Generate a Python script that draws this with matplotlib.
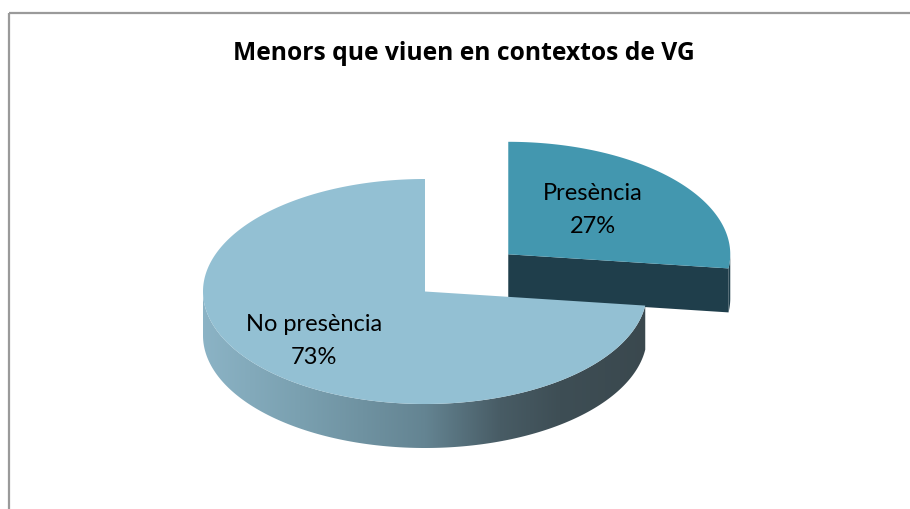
import numpy as np
import matplotlib
matplotlib.use("Agg")
import matplotlib.pyplot as plt
from matplotlib.patches import Polygon, Rectangle

# ---- data ----
title = "Menors que viuen en contextos de VG"
categories = ["Presència", "No presència"]
percentages = [27, 73]
explode = [0.5, 0.0]
top_colors = ["#4397AF", "#93C0D3"]
side_colors = ["#1F3E4B", None]  # None -> gradient

W, H = 910, 510
fig = plt.figure(figsize=(9.1, 5.1), dpi=100)
ax = fig.add_axes([0, 0, 1, 1])
ax.set_xlim(0, W)
ax.set_ylim(H, 0)
ax.axis("off")

FONT = ["Lato", "DejaVu Sans"]
TFONT = ["Open Sans", "DejaVu Sans"]

cx, cy, rx, ry, depth = 425, 292.5, 222, 112.5, 44


def arc(ox, oy, a0, a1, n=200, dz=0.0):
    a = np.radians(np.linspace(a0, a1, n))
    return np.column_stack([ox + rx * np.cos(a), oy - ry * np.sin(a) + dz])


# slice angles: start at 12 o'clock, clockwise
cum = np.concatenate([[0], np.cumsum(percentages)]) / sum(percentages) * 360.0
slices = []
for i in range(len(percentages)):
    a_hi = 90 - cum[i]
    a_lo = 90 - cum[i + 1]
    mid = np.radians((a_hi + a_lo) / 2)
    ox = cx + explode[i] * rx * np.cos(mid)
    oy = cy - explode[i] * ry * np.sin(mid)
    slices.append((a_lo, a_hi, ox, oy))

# gradient for main wall
grad_x = np.array([200, 300, 425, 500, 560, 650])
grad_c = np.array([[140, 180, 198], [122, 160, 176], [100, 132, 146],
                   [72, 92, 101], [62, 78, 85], [58, 72, 78]]) / 255.0

for i, (a_lo, a_hi, ox, oy) in enumerate(slices):
    lo = a_lo
    hi = a_hi
    segs = []
    for shift in (-360, 0, 360):
        s0, s1 = max(lo + shift, -180), min(hi + shift, 0)
        if s1 > s0:
            segs.append((s0, s1))
    for s0, s1 in segs:
        top = arc(ox, oy, s0, s1)
        bot = arc(ox, oy, s1, s0, dz=depth)
        poly = Polygon(np.vstack([top, bot]), closed=True, lw=0)
        if side_colors[i] is None:
            poly.set_facecolor("none")
            ax.add_patch(poly)
            xs = np.linspace(0, W, W)
            img = np.stack([np.interp(xs, grad_x, grad_c[:, k]) for k in range(3)], axis=-1)
            img = np.repeat(img[None, :, :], 2, axis=0)
            im = ax.imshow(img, extent=[0, W, H, 0], aspect="auto", zorder=1 + i * 3)
            im.set_clip_path(poly)
        else:
            poly.set_facecolor(side_colors[i])
            poly.set_zorder(1 + i * 3)
            ax.add_patch(poly)
    if np.cos(np.radians(a_lo)) > 1e-6:
        p = arc(ox, oy, a_lo, a_lo, n=1)[0]
        face = np.array([[ox, oy], p, p + [0, depth], [ox, oy + depth]])
        ax.add_patch(Polygon(face, closed=True, lw=0,
                             fc=side_colors[i] or "#3E4E55", zorder=1 + i * 3))
    if np.cos(np.radians(a_hi)) < -1e-6:
        p = arc(ox, oy, a_hi, a_hi, n=1)[0]
        face = np.array([[ox, oy], p, p + [0, depth], [ox, oy + depth]])
        ax.add_patch(Polygon(face, closed=True, lw=0,
                             fc=side_colors[i] or "#3E4E55", zorder=1 + i * 3))
    topface = np.vstack([[ox, oy], arc(ox, oy, a_lo, a_hi, n=300)])
    ax.add_patch(Polygon(topface, closed=True, lw=0, fc=top_colors[i], zorder=2 + i * 3))

# labels
label_pos = [(593, 210), (314, 341)]
for i, (x, y) in enumerate(label_pos):
    ax.text(x, y, f"{categories[i]}\n{percentages[i]}%", ha="center", va="center",
            fontsize=17, family=FONT, color="black", linespacing=1.65, zorder=10)

ax.text(464, 54, title, ha="center", va="center", fontsize=17.7,
        fontweight="bold", family=TFONT, color="black", zorder=10)

ax.add_patch(Rectangle((8.5, 13.5), 1000, 1000, fill=False, ec="#9A9A9A",
                       lw=1.6, zorder=20))

fig.savefig("out.png", dpi=100)
